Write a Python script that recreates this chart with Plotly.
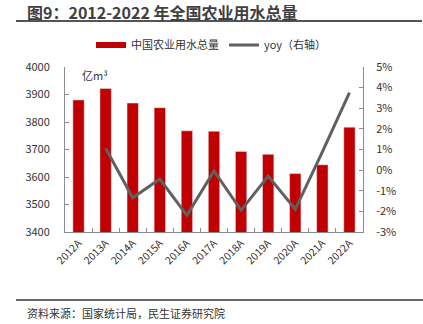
import plotly.graph_objects as go

years = ["2012A", "2013A", "2014A", "2015A", "2016A", "2017A", "2018A", "2019A", "2020A", "2021A", "2022A"]
water = [3880.3, 3921.5, 3869.0, 3852.2, 3768.0, 3766.4, 3693.1, 3682.3, 3612.4, 3644.3, 3781.3]
yoy = [None, 1.06, -1.34, -0.43, -2.19, -0.04, -1.95, -0.29, -1.90, 0.88, 3.76]
left_ticks = [3400, 3500, 3600, 3700, 3800, 3900, 4000]
right_ticks = [-3, -2, -1, 0, 1, 2, 3, 4, 5]
right_labels = [f"{v}%" for v in right_ticks]

FONT = "Noto Sans CJK SC"
RED = "#C00000"
GREY = "#606060"
AX = "#8c8c8c"

W, H = 423, 324
L, R, T, B = 65, 60, 67, 92
pw, ph = W - L - R, H - T - B

def px_x(p):
    return (p - L) / pw

def px_y(p):
    return (H - B - p) / ph

fig = go.Figure()
fig.add_trace(go.Bar(x=years, y=water, marker_color=RED, width=0.42,
                     showlegend=False, yaxis="y"))
fig.add_trace(go.Scatter(x=years, y=yoy, mode="lines", line=dict(color=GREY, width=3),
                         showlegend=False, yaxis="y2"))
# legend entries
fig.add_trace(go.Scatter(x=[None], y=[None], mode="lines", name="中国农业用水总量",
                         line=dict(color=RED, width=6), yaxis="y"))
fig.add_trace(go.Scatter(x=[None], y=[None], mode="lines", name="yoy（右轴）",
                         line=dict(color=GREY, width=3), yaxis="y2"))

fig.update_layout(
    width=W, height=H,
    margin=dict(l=L, r=R, t=T, b=B, autoexpand=False),
    paper_bgcolor="white", plot_bgcolor="white",
    font=dict(family=FONT, size=11, color="#333333"),
    xaxis=dict(type="category", showline=True, linecolor=AX, linewidth=1,
               ticks="inside", tickson="boundaries", ticklen=4, tickcolor=AX,
               tickangle=-45, tickfont=dict(size=10.5), showgrid=False),
    yaxis=dict(range=[3400, 4000], tickvals=left_ticks, showline=True, linecolor=AX,
               ticks="inside", ticklen=4, tickcolor=AX, showgrid=False, zeroline=False,
               ticklabelstandoff=12, tickfont=dict(size=11)),
    yaxis2=dict(range=[-3, 5], tickvals=right_ticks, ticktext=right_labels, overlaying="y",
                side="right", showline=True, linecolor=AX, ticks="inside", ticklen=4,
                tickcolor=AX, showgrid=False, zeroline=False, ticklabelstandoff=10,
                tickfont=dict(size=11)),
    legend=dict(orientation="h", x=0.5, xanchor="center", xref="container",
                y=1 - 45 / H, yanchor="middle", yref="container",
                font=dict(size=11), itemwidth=30, traceorder="normal",
                bgcolor="rgba(0,0,0,0)"),
    barmode="overlay",
)

fig.add_annotation(text="图9：2012-2022 年全国农业用水总量", xref="paper", yref="paper",
                   x=px_x(25), y=px_y(12), xanchor="left", yanchor="middle", showarrow=False,
                   font=dict(size=16, color="#404040", family=FONT, weight="bold"))
fig.add_annotation(text="亿m³", xref="paper", yref="paper", x=px_x(80), y=px_y(75),
                   xanchor="left", yanchor="middle", showarrow=False,
                   font=dict(size=11, color="#333333"))
fig.add_annotation(text="资料来源：国家统计局，民生证券研究院", xref="paper", yref="paper",
                   x=px_x(25), y=px_y(313), xanchor="left", yanchor="middle", showarrow=False,
                   font=dict(size=11, color="#333333"))

fig.add_shape(type="line", xref="paper", yref="paper", x0=px_x(16), x1=px_x(422),
              y0=px_y(21), y1=px_y(21), line=dict(color="#555555", width=2))
fig.add_shape(type="line", xref="paper", yref="paper", x0=px_x(16), x1=px_x(423),
              y0=px_y(300), y1=px_y(300), line=dict(color="#666666", width=2))

fig.write_html("out.html")
